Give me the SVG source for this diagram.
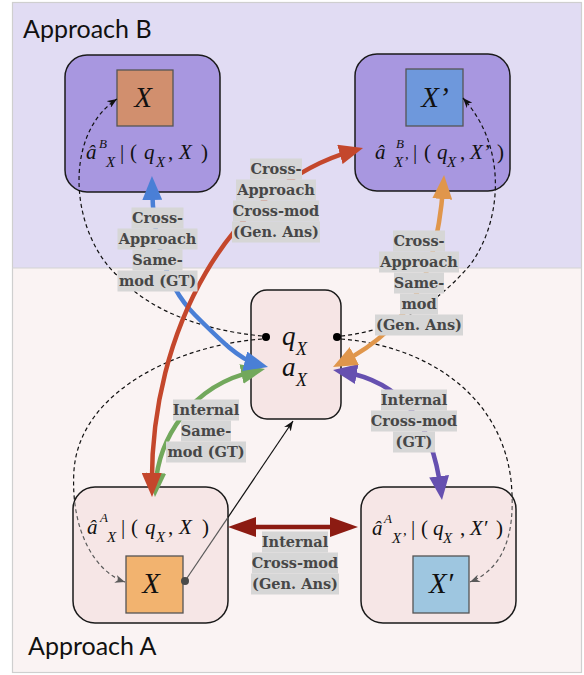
<svg xmlns="http://www.w3.org/2000/svg" width="584" height="675" viewBox="0 0 584 675">
<defs>
<style>
.region-label{font-family:Lato,"Liberation Sans",sans-serif;font-size:25px;fill:#111}
.node{stroke:#1a1a1a;stroke-width:1.5}
.sq{stroke:#555;stroke-width:1.3}
.m{font-family:"Liberation Serif","Times New Roman",serif;font-style:italic;font-size:21px;fill:#111}
.up{font-style:normal;fill:#111}
.sup{font-size:13px}
.sub{font-size:15px}
.big{font-family:"Liberation Serif","Times New Roman",serif;font-style:italic;font-size:29px;fill:#111;text-anchor:middle}
.cx{font-family:"Liberation Serif","Times New Roman",serif;font-style:italic;fill:#111}
.lbl{font-family:"DejaVu Serif",serif;font-weight:bold;font-size:14.5px;fill:#474747;text-anchor:middle}
.lb{fill:#d6d6d6}
.thick{fill:none;stroke-width:4.5}
.dash{fill:none;stroke:#111;stroke-width:1.2;stroke-dasharray:4 3}
.dashg{fill:none;stroke:#5a5a5a;stroke-width:1.2;stroke-dasharray:4 3}
</style>
<marker id="hBlue" viewBox="0 0 24 20" refX="14" refY="10" markerWidth="24" markerHeight="20" markerUnits="userSpaceOnUse" orient="auto-start-reverse"><path d="M0,0 L24,10 L0,20 z" fill="#4a7fd6"/></marker>
<marker id="hRed" viewBox="0 0 24 20" refX="14" refY="10" markerWidth="24" markerHeight="20" markerUnits="userSpaceOnUse" orient="auto-start-reverse"><path d="M0,0 L24,10 L0,20 z" fill="#c4472c"/></marker>
<marker id="hGreen" viewBox="0 0 24 20" refX="14" refY="10" markerWidth="24" markerHeight="20" markerUnits="userSpaceOnUse" orient="auto-start-reverse"><path d="M0,0 L24,10 L0,20 z" fill="#72a85c"/></marker>
<marker id="hOrange" viewBox="0 0 24 20" refX="14" refY="10" markerWidth="24" markerHeight="20" markerUnits="userSpaceOnUse" orient="auto-start-reverse"><path d="M0,0 L24,10 L0,20 z" fill="#e0964b"/></marker>
<marker id="hPurple" viewBox="0 0 24 20" refX="14" refY="10" markerWidth="24" markerHeight="20" markerUnits="userSpaceOnUse" orient="auto-start-reverse"><path d="M0,0 L24,10 L0,20 z" fill="#6650b0"/></marker>
<marker id="hDark" viewBox="0 0 28 20" refX="18" refY="10" markerWidth="28" markerHeight="20" markerUnits="userSpaceOnUse" orient="auto-start-reverse"><path d="M0,0 L28,10 L0,20 z" fill="#8c1b12"/></marker>
<marker id="hSmall" viewBox="0 0 10 8" refX="10" refY="4" markerWidth="10" markerHeight="8" markerUnits="userSpaceOnUse" orient="auto"><path d="M0,0 L10,4 L0,8 L3,4 z" fill="#111"/></marker>
<marker id="hSmallG" viewBox="0 0 10 8" refX="10" refY="4" markerWidth="10" markerHeight="8" markerUnits="userSpaceOnUse" orient="auto"><path d="M0,0 L10,4 L0,8 L3,4 z" fill="#5a5a5a"/></marker>
<clipPath id="inA1"><rect x="73" y="487" width="155" height="136" rx="22"/></clipPath>
<clipPath id="outA1"><path clip-rule="evenodd" d="M0,0H584V675H0Z M95,487H206A22,22 0 0 1 228,509V601A22,22 0 0 1 206,623H95A22,22 0 0 1 73,601V509A22,22 0 0 1 95,487Z"/></clipPath>
<clipPath id="inA2"><rect x="361" y="487" width="155" height="136" rx="22"/></clipPath>
<clipPath id="outA2"><path clip-rule="evenodd" d="M0,0H584V675H0Z M383,487H494A22,22 0 0 1 516,509V601A22,22 0 0 1 494,623H383A22,22 0 0 1 361,601V509A22,22 0 0 1 383,487Z"/></clipPath>
</defs>

<g id="background">
<rect x="12" y="2" width="570" height="266" fill="#e1dcf3"/>
<rect x="12" y="268" width="570" height="405" fill="#faf3f3"/>
<rect x="12.5" y="2.5" width="569" height="670" fill="none" stroke="#cfcfcf" stroke-width="1.2"/>
<line x1="12" y1="268" x2="582" y2="268" stroke="#d4d4d4" stroke-width="1.2"/>
<text class="region-label" x="23" y="38">Approach B</text>
<text class="region-label" x="28" y="655">Approach A</text>
</g>

<g id="node-B1">
<rect class="node" x="65" y="55" width="155" height="137" rx="22" fill="#a897e0"/>
<rect class="sq" x="117" y="70" width="56" height="56" fill="#d18f6e"/>
<text class="big" x="143" y="107">X</text>
<text class="m"><tspan x="86" y="159">â</tspan><tspan class="sup" x="99" y="148">B</tspan><tspan class="sub" x="106" y="167">X</tspan><tspan class="up" x="120" y="159">|</tspan><tspan class="up" x="130" y="159">(</tspan><tspan x="144" y="159">q</tspan><tspan class="sub" x="156" y="167">X</tspan><tspan class="up" x="168" y="159">,</tspan><tspan x="179" y="159">X</tspan><tspan class="up" x="201" y="159">)</tspan></text>
</g>

<g id="node-B2">
<rect class="node" x="355" y="54" width="155" height="137" rx="22" fill="#a897e0"/>
<rect class="sq" x="406" y="69" width="57" height="57" fill="#6e98dc"/>
<text class="big" x="435" y="107">X’</text>
<text class="m"><tspan x="375" y="159">â</tspan><tspan class="sup" x="396" y="148">B</tspan><tspan class="sub" x="394" y="167">X’</tspan><tspan class="up" x="413" y="159">|</tspan><tspan class="up" x="424" y="159">(</tspan><tspan x="437" y="159">q</tspan><tspan class="sub" x="447" y="167">X</tspan><tspan class="up" x="460" y="159">,</tspan><tspan x="470" y="159">X’</tspan><tspan class="up" x="497" y="159">)</tspan></text>
</g>

<g id="node-center">
<rect class="node" x="251" y="290" width="90" height="129" rx="16" fill="#f6e5e5"/>
<text class="cx"><tspan x="282" y="345" font-size="27">q</tspan><tspan x="296" y="355" font-size="18">X</tspan></text>
<text class="cx"><tspan x="282" y="376" font-size="27">a</tspan><tspan x="296" y="386" font-size="18">X</tspan></text>
<circle cx="266" cy="337" r="4" fill="#000"/>
<circle cx="337" cy="337" r="4" fill="#000"/>
</g>

<g id="node-A1">
<rect class="node" x="73" y="487" width="155" height="136" rx="22" fill="#f6e6e6"/>
<rect class="sq" x="126" y="556" width="57" height="57" fill="#f2b36f"/>
<text class="big" x="151" y="593">X</text>
<text class="m"><tspan x="87" y="534">â</tspan><tspan class="sup" x="100" y="522">A</tspan><tspan class="sub" x="107" y="542">X</tspan><tspan class="up" x="121" y="534">|</tspan><tspan class="up" x="131" y="534">(</tspan><tspan x="145" y="534">q</tspan><tspan class="sub" x="156" y="542">X</tspan><tspan class="up" x="168" y="534">,</tspan><tspan x="179" y="534">X</tspan><tspan class="up" x="202" y="534">)</tspan></text>
</g>

<g id="node-A2">
<rect class="node" x="361" y="487" width="155" height="136" rx="22" fill="#f6e6e6"/>
<rect class="sq" x="413" y="556" width="56" height="57" fill="#9ec6e0"/>
<text class="big" x="441" y="593">X′</text>
<text class="m"><tspan x="372" y="535">â</tspan><tspan class="sup" x="384" y="523">A</tspan><tspan class="sub" x="392" y="543">X’</tspan><tspan class="up" x="411" y="535">|</tspan><tspan class="up" x="421" y="535">(</tspan><tspan x="433" y="535">q</tspan><tspan class="sub" x="443" y="543">X</tspan><tspan class="up" x="460" y="535">,</tspan><tspan x="470" y="535">X′</tspan><tspan class="up" x="496" y="535">)</tspan></text>
</g>

<g id="connectors">
<path class="dash" d="M262,336 C200,330 150,310 120,278 C70,235 62,135 117,99" marker-end="url(#hSmall)"/>
<path class="dash" clip-path="url(#outA1)" d="M262,339 C180,345 80,390 74,470 C70,530 95,572 125,582"/>
<path class="dashg" clip-path="url(#inA1)" d="M262,339 C180,345 80,390 74,470 C70,530 95,572 125,582" marker-end="url(#hSmallG)"/>
<path class="dash" d="M341,336 C400,330 440,300 470,265 C500,225 510,150 463,98" marker-end="url(#hSmall)"/>
<path class="dash" clip-path="url(#outA2)" d="M341,339 C420,345 500,390 511,480 C517,540 500,570 470,582"/>
<path class="dashg" clip-path="url(#inA2)" d="M341,339 C420,345 500,390 511,480 C517,540 500,570 470,582" marker-end="url(#hSmallG)"/>
<line x1="185" y1="581" x2="228" y2="517.3" stroke="#5a5a5a" stroke-width="1.2"/>
<line x1="228" y1="517.3" x2="293" y2="421" stroke="#111" stroke-width="1.2" marker-end="url(#hSmall)"/>
<circle cx="185" cy="581" r="4" fill="#4a4a4a"/>
<path class="thick" stroke="#72a85c" d="M155.5,487 C158,440 190,385 255.2,371.1" marker-start="url(#hGreen)" marker-end="url(#hGreen)"/>
<path class="thick" stroke="#4a7fd6" d="M152.1,186 C153,250 170,290 195,315 C220,340 240,360 258.3,364.6" marker-start="url(#hBlue)" marker-end="url(#hBlue)"/>
<path class="thick" stroke="#c4472c" d="M151.9,487 C150,330 230,185 353.4,150.7" marker-start="url(#hRed)" marker-end="url(#hRed)"/>
<path class="thick" stroke="#6650b0" d="M342.9,371.7 C380,378 430,400 440.8,490.1" marker-start="url(#hPurple)" marker-end="url(#hPurple)"/>
<path class="thick" stroke="#e0964b" d="M443.3,185 C437,270 415,325 341.9,362.4" marker-start="url(#hOrange)" marker-end="url(#hOrange)"/>
<path class="thick" stroke="#8c1b12" d="M238,527 L348,527" marker-start="url(#hDark)" marker-end="url(#hDark)"/>

<g id="label-blue">
<rect class="lb" x="131.5" y="207.5" width="52" height="21"/>
<rect class="lb" x="117.5" y="228.5" width="80" height="21"/>
<rect class="lb" x="132.5" y="249.5" width="50" height="21"/>
<rect class="lb" x="117.5" y="270.5" width="80" height="21"/>
<text class="lbl" x="157.5" y="223">Cross-</text>
<text class="lbl" x="157.5" y="244">Approach</text>
<text class="lbl" x="157.5" y="265">Same-</text>
<text class="lbl" x="157.5" y="286">mod (GT)</text>
</g>
<g id="label-red">
<rect class="lb" x="250" y="158.5" width="52" height="21"/>
<rect class="lb" x="236" y="179.5" width="80" height="21"/>
<rect class="lb" x="233" y="200.5" width="86" height="21"/>
<rect class="lb" x="232" y="221.5" width="88" height="21"/>
<text class="lbl" x="276" y="174">Cross-</text>
<text class="lbl" x="276" y="195">Approach</text>
<text class="lbl" x="276" y="216">Cross-mod</text>
<text class="lbl" x="276" y="237">(Gen. Ans)</text>
</g>
<g id="label-orange">
<rect class="lb" x="393" y="230.5" width="52" height="21"/>
<rect class="lb" x="379" y="251.5" width="80" height="21"/>
<rect class="lb" x="394" y="272.5" width="50" height="21"/>
<rect class="lb" x="400" y="293.5" width="38" height="21"/>
<rect class="lb" x="375" y="314.5" width="88" height="21"/>
<text class="lbl" x="419" y="246">Cross-</text>
<text class="lbl" x="419" y="267">Approach</text>
<text class="lbl" x="419" y="288">Same-</text>
<text class="lbl" x="419" y="309">mod</text>
<text class="lbl" x="419" y="330">(Gen. Ans)</text>
</g>
<g id="label-purple">
<rect class="lb" x="381" y="389.5" width="66" height="21"/>
<rect class="lb" x="371" y="410.5" width="86" height="21"/>
<rect class="lb" x="393" y="431.5" width="42" height="21"/>
<text class="lbl" x="414" y="405">Internal</text>
<text class="lbl" x="414" y="426">Cross-mod</text>
<text class="lbl" x="414" y="447">(GT)</text>
</g>
<g id="label-green">
<rect class="lb" x="173" y="399.5" width="66" height="21"/>
<rect class="lb" x="181" y="420.5" width="50" height="21"/>
<rect class="lb" x="166" y="441.5" width="80" height="21"/>
<text class="lbl" x="206" y="415">Internal</text>
<text class="lbl" x="206" y="436">Same-</text>
<text class="lbl" x="206" y="457">mod (GT)</text>
</g>
<g id="label-darkred">
<rect class="lb" x="262" y="531.5" width="66" height="21"/>
<rect class="lb" x="252" y="552.5" width="86" height="21"/>
<rect class="lb" x="251" y="573.5" width="88" height="21"/>
<text class="lbl" x="295" y="547">Internal</text>
<text class="lbl" x="295" y="568">Cross-mod</text>
<text class="lbl" x="295" y="589">(Gen. Ans)</text>
</g>
</g>
</svg>
